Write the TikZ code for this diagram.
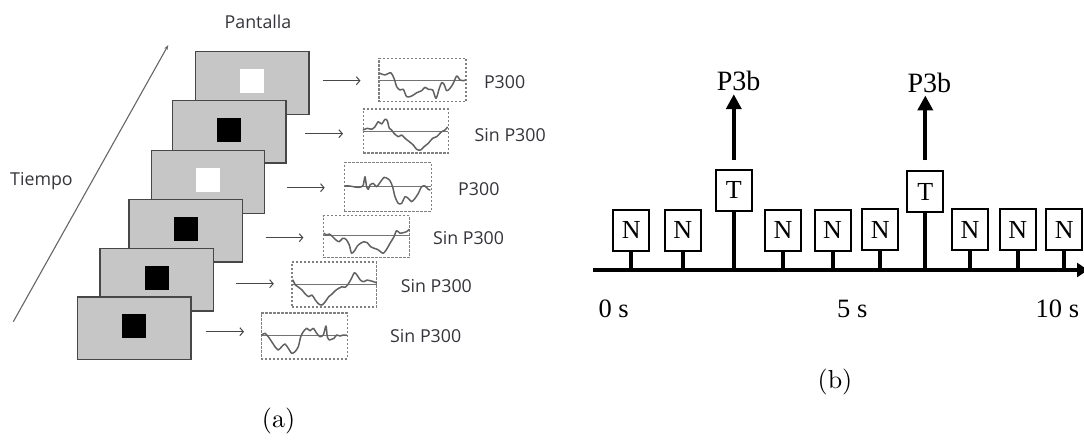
\documentclass[tikz,border=0pt]{standalone}
\usepackage{fontspec}
\newfontfamily\osans{Open Sans}
\newfontfamily\tms{Liberation Serif}
\newfontfamily\lmten{lmroman10-regular.otf}
\usetikzlibrary{arrows.meta,calc}
\definecolor{scr}{RGB}{198,198,198}
\definecolor{lab}{RGB}{52,52,58}
\begin{document}
\begin{tikzpicture}[x=1pt,y=-1pt,
  screen/.style={draw=black!72, line width=1.4pt, fill=scr, minimum width=113.5pt, minimum height=62.6pt, inner sep=0pt},
  wsq/.style={fill=white, minimum size=24pt, inner sep=0pt},
  bsq/.style={fill=black, minimum size=24pt, inner sep=0pt},
  wbox/.style={draw=black!50, dash pattern=on 2.2pt off 1.8pt, line width=1.1pt, minimum width=86pt, inner sep=0pt},
  wave/.style={draw=black!62, line width=1.5pt, line join=round, line cap=round},
  baseln/.style={draw=black!55, line width=0.9pt},
  rarrow/.style={draw=black!72, line width=1pt, -{Straight Barb[length=3.5pt,width=8pt]}},
  tarrow/.style={draw=black!60, line width=1.1pt, -{Stealth[length=5pt,width=3.5pt]}},
  slab/.style={font=\osans\fontsize{17.8}{20}\selectfont, text=lab, inner sep=0pt, anchor=base west},
  nbox/.style={draw=black, line width=2pt, fill=white, minimum width=36pt, minimum height=40.5pt, inner sep=0pt, font=\tms\fontsize{26}{28}\selectfont},
  stem/.style={draw=black, line width=4pt},
  axisln/.style={draw=black, line width=4.5pt, -{Triangle[length=11pt,width=14pt]}},
  uparrow/.style={draw=black, line width=4pt, -{Triangle[length=15pt,width=15pt]}},
  tlab/.style={font=\tms\fontsize{26.5}{28}\selectfont, inner sep=0pt, anchor=base west},
  captxt/.style={font=\lmten\fontsize{26}{28}\selectfont, inner sep=0pt}
]
\useasboundingbox (0,0) rectangle (1084,440);

% ---------- (a) ----------
\node[slab] (pant) at (224.5,28.3) {Pantalla};
\node[slab] (tiem) at (10,185.7) {Tiempo};
\coordinate (t0) at (13.3,321.7);
\coordinate (t1) at (168.3,45);
\draw[tarrow] (t0) -- (t1);

\node[screen] (s1) at (252.2,83) {};
\node[wsq] (q1) at ($(s1.center)+(0,-2)$) {};
\node[screen] (s2) at (229.4,131.8) {};
\node[bsq] (q2) at ($(s2.center)+(0,-2)$) {};
\node[screen] (s3) at (208,182) {};
\node[wsq] (q3) at ($(s3.center)+(0,-2)$) {};
\node[screen] (s4) at (185.7,230.7) {};
\node[bsq] (q4) at ($(s4.center)+(0,-2)$) {};
\node[screen] (s5) at (156.7,279.5) {};
\node[bsq] (q5) at ($(s5.center)+(0,-2)$) {};
\node[screen] (s6) at (134.1,328.2) {};
\node[bsq] (q6) at ($(s6.center)+(0,-2)$) {};

% arrows
\coordinate (a1s) at (322.7,80.7);  \coordinate (a1e) at (360.5,80.7);
\coordinate (a2s) at (305,133.7);   \coordinate (a2e) at (343,133.7);
\coordinate (a3s) at (286.8,187.7); \coordinate (a3e) at (324.7,187.7);
\coordinate (a4s) at (265.5,237.7); \coordinate (a4e) at (303.4,237.7);
\coordinate (a5s) at (235.5,283.7); \coordinate (a5e) at (273.8,283.7);
\coordinate (a6s) at (205.5,331.7); \coordinate (a6e) at (244,331.7);
\foreach \i in {1,...,6} \draw[rarrow] (a\i s) -- (a\i e);

% wave boxes
\node[wbox, minimum width=87pt, minimum height=43.7pt] (w1) at (422.5,79.9) {};
\node[wbox, minimum width=85pt, minimum height=44pt] (w2) at (405.8,131) {};
\node[wbox, minimum width=86.7pt, minimum height=48.8pt] (w3) at (387.7,187.1) {};
\node[wbox, minimum width=86.2pt, minimum height=41.6pt] (w4) at (366.4,236.5) {};
\node[wbox, minimum width=84.6pt, minimum height=45pt] (w5) at (334.3,284.5) {};
\node[wbox, minimum width=86.3pt, minimum height=46pt] (w6) at (304.2,336) {};

\begin{scope}[shift={(379,80)}]
\draw[baseln] (0,0) -- (87,0);
\draw[wave] plot[smooth,tension=.5] coordinates {(1,-6.7) (6,-5) (11.7,-7.3) (15,-1.7) (17.7,6.7) (21,10) (24.3,9.3) (27.7,16.7) (32.7,16) (37.7,12.7) (42.7,10.7) (46,7.3) (49.3,9.3) (53.7,10) (57,18.3) (60.3,8.3) (62.7,2.7) (65,4.3) (67.7,10.7) (71,8.3) (74.3,3.3) (77.7,-4) (81,0) (84.3,0.7) (86.3,0)};
\end{scope}
\begin{scope}[shift={(363.3,131)}]
\draw[baseln] (0,0) -- (85,0);
\draw[wave] plot[smooth,tension=.5] coordinates {(0,-1) (4,-2.7) (8.3,-1.7) (11.7,-4.3) (15,-9.3) (18.3,-7) (21.7,-11.7) (24,-10.3) (26,-2.7) (28.3,-1) (30.7,2.3) (35,5.7) (38.3,4) (41.7,7.3) (46,10.7) (50,14) (53.3,18.3) (57.3,19) (60.7,15.7) (65,12.3) (69.3,7.3) (73.3,5.7) (78.3,0.7) (81.7,-1) (84,-3.7)};
\end{scope}
\begin{scope}[shift={(344.3,186.7)}]
\draw[baseln] (0,0) -- (86.7,0);
\draw[wave] plot[smooth,tension=.4] coordinates {(0.7,-0.7) (5.7,-0.7) (9,0) (14,0.7) (17.3,0) (19,-1.7) (20.7,-10) (22.3,0) (24,2.7) (25.7,-1.7) (29,-3.3) (32.3,0) (36.3,-5) (39.7,-9.3) (43,-8.3) (45.7,-6) (48.3,0) (50.7,10) (54,16.7) (57.3,16.7) (60.7,10) (64,11.7) (67.3,15) (70.7,11.7) (74,6.7) (77.3,0) (80.7,-0.7) (84,2.7) (85.7,3.3)};
\end{scope}
\begin{scope}[shift={(323.3,235)}]
\draw[baseln] (0,0) -- (86.2,0);
\draw[wave] plot[smooth,tension=.5] coordinates {(0.7,-1.7) (3.3,0) (6,-1) (9.3,1.7) (12.7,5) (16,6.7) (19.3,3.3) (22.7,4.3) (26,10) (28.3,18.3) (31.7,15) (34,11) (37.3,8.3) (40.7,6.7) (44,7.7) (47.3,11.7) (50.7,13.3) (54,14.3) (57.3,16.7) (60,18.3) (63.3,14.3) (66.7,8.3) (70.7,1.7) (73.3,-4.3) (76.7,-1.7) (80,-2.3) (83.3,-3.3) (86,-5.7)};
\end{scope}
\begin{scope}[shift={(292,284)}]
\draw[baseln] (0,0) -- (84.6,0);
\draw[wave] plot[smooth,tension=.5] coordinates {(1,-4) (3.3,1) (6.7,3.3) (10,6) (13.3,10) (16.7,12.7) (20,11) (23.3,16) (26.7,20) (30,21) (33.3,17.7) (36.7,12.7) (40,10) (43.3,6.7) (46.7,4.3) (50,2.7) (53.3,3.3) (56.7,-0.7) (60,-6.7) (62.3,-11.3) (65,-9) (68.3,-4) (71.7,-2.3) (75,-4) (78.3,-3.3) (81.7,-2.3) (84.3,-1.3)};
\end{scope}
\begin{scope}[shift={(261,335)}]
\draw[baseln] (0,0) -- (86.3,0);
\draw[wave] plot[smooth,tension=.4] coordinates {(0.7,0) (4,-1.7) (7.3,1.7) (10.7,6.7) (14,11.7) (17.3,15) (20.7,11.7) (24,9) (27.3,13.3) (30.7,18.3) (34,16.7) (37.3,11.7) (39.7,1.7) (42.3,-3.3) (45.7,-6.7) (49,-4.3) (52.3,-6.7) (55.7,-1.7) (59,1.7) (62.3,0) (65,-9) (66.3,1.7) (68.3,5) (70.7,4.3) (73,3.3) (75.7,0) (79,1) (82.3,0) (85.7,0.3)};
\end{scope}

\node[slab] (l1) at (483.8,88.7) {P300};
\node[slab] (l2) at (474.5,141) {Sin P300};
\node[slab] (l3) at (458,195.7) {P300};
\node[slab] (l4) at (432.8,244.7) {Sin P300};
\node[slab] (l5) at (400.6,292) {Sin P300};
\node[slab] (l6) at (390,342.7) {Sin P300};

\node[captxt] (capa) at (278.5,421) {(a)};

% ---------- (b) ----------
\coordinate (ax0) at (593.3,270);
\coordinate (ax1) at (1088,270);
\draw[axisln] (ax0) -- (ax1);

\node[nbox] (n1) at (631.3,230.3) {N};
\node[nbox] (n2) at (682.8,230.3) {N};
\node[nbox] (tt1) at (733.8,190.3) {T};
\node[nbox] (n3) at (783,230.3) {N};
\node[nbox] (n4) at (832.5,230.3) {N};
\node[nbox] (n5) at (880.3,229.5) {N};
\node[nbox] (tt2) at (925.3,191.6) {T};
\node[nbox] (n6) at (970,229.5) {N};
\node[nbox] (n7) at (1017.7,229.5) {N};
\node[nbox] (n8) at (1064.3,229.5) {N};

\foreach \b in {n1,n2,tt1,n3,n4,n5,tt2,n6,n7,n8}
  \draw[stem] (\b.south) -- (\b.south |- ax0);

\node[font=\tms\fontsize{28}{30}\selectfont, inner sep=0pt, anchor=base west] (pb1) at (716.7,90.7) {P3b};
\node[font=\tms\fontsize{28}{30}\selectfont, inner sep=0pt, anchor=base west] (pb2) at (907.3,92) {P3b};
\draw[uparrow] ([yshift=9.5pt]tt1.north) -- ([yshift=-3pt]tt1.north |- pb1.south);
\draw[uparrow] ([yshift=10pt]tt2.north) -- ([yshift=-3pt]tt2.north |- pb2.south);

\node[tlab] (s0) at (598.3,317.3) {0 s};
\node[tlab] (s5s) at (837,317.3) {5 s};
\node[tlab] (s10) at (1035.5,317.3) {10 s};

\node[captxt] (capb) at (835,382) {(b)};
\end{tikzpicture}
\end{document}
